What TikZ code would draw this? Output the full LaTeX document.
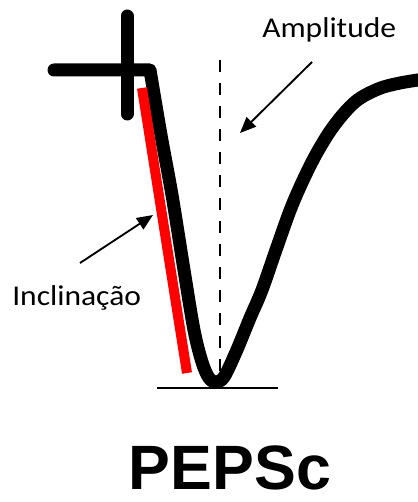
\documentclass[tikz,border=0pt]{standalone}
\usepackage{fontspec}
\setmainfont{Carlito}
\newfontfamily\headfont{Liberation Sans}
\usetikzlibrary{arrows.meta}
\begin{document}
\begin{tikzpicture}[x=0.75pt,y=-0.75pt,
  wave/.style={line width=9.75pt,line cap=round,line join=round},
  slopeline/.style={line width=7.5pt,red},
  guide/.style={line width=2.1pt,dash pattern=on 9pt off 8.25pt},
  baseln/.style={line width=1.1pt},
  pointer/.style={line width=1.4pt,-{Triangle[length=12pt,width=10pt]}},
  label/.style={inner sep=0pt,font=\fontsize{21.5pt}{24pt}\selectfont},
  title/.style={inner sep=0pt,text depth=0pt,font=\headfont\bfseries\fontsize{47pt}{52pt}\selectfont}]
\useasboundingbox (0,0) rectangle (417,502);
% baseline under trough
\coordinate (b1) at (157,388);
\coordinate (b2) at (278,388);
\draw[baseln] (b1) -- (b2);
% dashed amplitude guide
\coordinate (d1) at (220,60);
\coordinate (d2) at (220,385);
\draw[guide] (d1) -- (d2);
% waveform
\draw[wave] (54,70) -- plot[smooth,tension=0.55] coordinates {(150,70) (161,135) (172,195) (184,270) (194,330) (202,362) (209,378) (216,382) (224,377) (236,352) (250,318) (262,290) (277,247) (293,203) (313,160) (333,127) (355,102) (378,89) (400,83) (425,79)};
% vertical bar of the cross
\draw[line width=9.75pt,line cap=round] (127,16) -- (127,114);
% red slope line
\coordinate (r1) at (142,88);
\coordinate (r2) at (187,373);
\draw[slopeline] (r1) -- (r2);
% labels
\node[label,anchor=base west] (amp) at (262,38) {\scalebox{1.1}[1]{Amplitude}};
\node[label,anchor=base west] (inc) at (12,305) {\scalebox{1.1}[1]{Inclinação}};
\node[title,anchor=base] (pep) at (230,489) {PEPSc};
% arrows
\coordinate (a1) at (312,62);
\coordinate (a2) at (240,133);
\draw[pointer] (a1) -- (a2);
\coordinate (i1) at (80,263);
\coordinate (i2) at (153,215);
\draw[pointer] (i1) -- (i2);
\end{tikzpicture}
\end{document}
